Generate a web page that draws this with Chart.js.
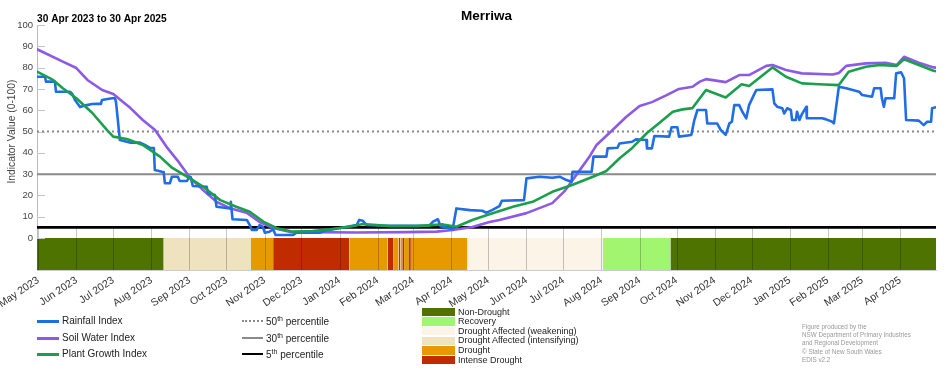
<!DOCTYPE html>
<html>
<head>
<meta charset="utf-8">
<script src="https://cdn.jsdelivr.net/npm/chart.js@4.4.1/dist/chart.umd.min.js"></script>
<style>
  body { margin: 0; background: #fff; font-family: "Liberation Sans", Arial, sans-serif; }
  #wrap { position: relative; width: 952px; height: 370px; overflow: hidden; }
  #chart { position: absolute; left: 0; top: 0; }
  .lg { position: absolute; white-space: nowrap; color: #222; }
  .sup { font-size: 7px; position: relative; top: -4px; }
</style>
</head>
<body>
<div id="wrap">
  <canvas id="chart" width="952" height="370"></canvas>
  <div id="legend"></div>
</div>
<script>
// ---- data (days counted from 30 Apr 2023) ----
var titleText = "Merriwa";
var periodText = "30 Apr 2023 to 30 Apr 2025";

var monthLabels = ["May 2023","Jun 2023","Jul 2023","Aug 2023","Sep 2023","Oct 2023","Nov 2023","Dec 2023",
  "Jan 2024","Feb 2024","Mar 2024","Apr 2024","May 2024","Jun 2024","Jul 2024","Aug 2024","Sep 2024","Oct 2024",
  "Nov 2024","Dec 2024","Jan 2025","Feb 2025","Mar 2025","Apr 2025"];
var monthDays = [1,32,62,93,124,154,185,215,246,277,306,337,367,398,428,459,490,520,551,581,612,643,671,702];
var lastDay = 731;
var yTicks = [0,10,20,30,40,50,60,70,80,90,100];

var seriesNames = ["Rainfall Index", "Soil Water Index", "Plant Growth Index"];

var rainDay = [0,6.5,7.3,14.6,15.4,26.8,28.4,30.9,35,40.6,44.7,48.7,52,52.8,61,63.4,64.2,67.4,75.5,83.7,87.7,91.8,95,95.8,
  101.5,103,104,108,109.7,114.5,116,122,123.5,125,126.7,138,139,144.6,146,157,157.6,159,170.6,173,174.7,178.7,181,183.6,
  185.2,189,192,194,208,211,230,235.6,238,252,260,262,265,268,284,319,322,326,328,335.5,338,341,352,362,365.5,370,376,378,
  396,398,408.6,419,425,430.5,434.6,435.4,451,452.5,463,464,472,473.6,484,487,495.5,496,500,502,514,516,520.7,522,532,
  534.5,537,544,545,553,556,560,563,565,567,571,573.5,576.7,579,583.5,585,598,599.5,602,606,607.6,610,613,614,617,618,
  620,622,625.5,626,638.5,641.7,646.6,648,650.6,652,658,668.5,671,679,680.7,686,687,688.6,690,697,698.6,702.6,705,706.7,
  717,721,723.8,727,727.8,731];
var rainVal = [75.7,75.7,73.4,73.4,68.7,68.7,67.9,64.8,61.5,62.4,62.9,63,63,64.8,65.6,65.6,64,46,44.8,44.8,43.7,42.3,42.3,31.9,
  31.1,31,25.7,25.7,28.8,28.8,26.8,26.8,28.6,28.6,24.4,24.1,21,20.2,14.7,13.9,17,8.8,8.5,6.1,3.8,3.8,6.1,5.3,
  2.5,3,4.1,1.4,1.4,2.5,2.5,3.8,3.8,5.3,6.1,8.5,8.1,6.1,5.8,5.8,7.7,8.8,5.6,4.6,4.1,13.9,13.1,12.8,11.9,13.1,15,17.5,
  17.8,28,28.8,28.3,28.8,27.2,26.4,31.1,31.1,38.2,38.2,42.1,42.4,44.4,45.2,46.3,46,42.1,42.1,47.9,47.6,52,52,47.6,48.4,
  55.4,60.1,60.1,53.8,53.8,50.7,48.4,53.8,54.6,62.4,62.4,59.3,56.2,62.4,67.9,69.5,69.8,63.2,61.6,60.9,58.5,60.9,60.1,55.4,55.4,59.3,
  55.4,58.2,61.6,56.2,56.2,55.7,54.6,53.8,65,71,70.3,68.7,67.1,66.3,70.3,70.3,65.6,61.6,65.6,65.6,77.3,77.8,75,55.4,
  55.1,53,54.6,54.6,60.9,61.4];

var soilDay = [0,21,32,41,53,62,76,86,96,106,114,124,135,146,157,171,181,192,206,224,260,300,325,338,354,368,376,398,419,
  429,439,449,455,468,479,490,500,512,522,533,539,544,560,571,579,593,598,609,622,647,652,658,674,690,699,705,717,729,731];
var soilVal = [88.6,82.8,79.8,74.2,69.5,67.6,61,55.4,50.7,42.3,36.6,28.6,22.5,17,14,11.7,7.5,4.7,2.8,2.8,2.6,2.8,3,3.8,5.2,7.5,8.5,11.7,16.4,
  22,30,38,43.7,50.7,56.8,62,63.8,67.1,70,71,73.4,74.6,73.2,76.5,76.5,80.8,81.2,78.9,77.3,76.8,77.5,80.8,82,82.3,81.2,85.1,82.3,80.1,80];

var growthDay = [0,13,21,32,45,57,62,73,86,100,110,122,135,149,162,173,184,195,208,224,238,254,265,287,309,330,341,354,366,387,
  403,419,435,452,463,474,484,496,506,517,525,533,544,560,573,579,598,609,622,636,652,660,674,685,699,705,717,729,731];
var growthVal = [78.1,74.2,70.3,65.6,58.7,50.7,47.6,46.5,43.7,38.2,32.9,28.8,24.1,17.8,14.7,12.3,7.7,4.6,3,3.3,4.1,5.3,6.6,5.6,5.6,6.4,5.3,8.5,10.8,14.7,
  17,21.7,24.9,28.8,31.5,37.6,42.3,49.3,54,59.3,60.4,61,69.5,66,72.2,71.4,80.1,75.7,72.6,72.2,71.8,78.1,80.4,81.2,80.8,83.9,81.2,78.5,78.3];

var pctNames = ["50", "30", "5"];
var pctValues = [50, 30, 5];

var droughtCats = ["Non-Drought","Recovery","Drought Affected (weakening)","Drought Affected (intensifying)","Drought","Intense Drought"];
var bandBreaks = [0,103,174,192,254,285,290,294,295.5,297,298.5,302.5,304,350,460,515,731];
var bandStatus = [0,3,4,5,4,5,4,5,4,5,4,5,4,2,1,0];

var creditLines = ["Figure produced by the","NSW Department of Primary Industries","and Regional Development",
  "\u00a9 State of New South Wales","EDIS v2.2"];

// ---- styles ----
var seriesColors = ["#1f6ee8", "#8c5ae6", "#1b9f4c"];
var pctColors = ["#8a8a8a", "#8a8a8a", "#000000"];
var pctWidths = [2, 2, 2.6];
var pctDash = [[2, 3], [], []];
var bandColors = ["#4e7300", "#a1f56f", "#fdf4e8", "#efe2bf", "#e69a00", "#c12b00"];
var bandFloor = -15;
var FONT = '"Liberation Sans", Arial, sans-serif';

function pts(xs, ys) {
  var out = [];
  for (var i = 0; i < xs.length; i++) out.push({x: xs[i], y: ys[i]});
  return out;
}

var datasets = [];
// drought status band (first in list so index 0 is drawn last among bands)
for (var i = 0; i < bandStatus.length; i++) {
  datasets.push({
    data: [{x: bandBreaks[i], y: 0}, {x: bandBreaks[i + 1], y: 0}],
    borderColor: "rgba(0,0,0,0)", borderWidth: 0, pointRadius: 0,
    backgroundColor: bandColors[bandStatus[i]], fill: {value: bandFloor}, order: 100
  });
}
// percentile reference lines
for (var j = 0; j < pctValues.length; j++) {
  datasets.push({
    data: [{x: 0, y: pctValues[j]}, {x: lastDay, y: pctValues[j]}],
    borderColor: pctColors[j], borderWidth: pctWidths[j], borderDash: pctDash[j],
    pointRadius: 0, fill: false, order: 50
  });
}
var seriesData = [pts(rainDay, rainVal), pts(soilDay, soilVal), pts(growthDay, growthVal)];
var seriesOrder = [2, 3, 1];
for (var k = 0; k < seriesData.length; k++) {
  datasets.push({
    label: seriesNames[k], data: seriesData[k],
    borderColor: seriesColors[k], borderWidth: 2.6, pointRadius: 0,
    fill: false, tension: 0, order: seriesOrder[k],
    borderJoinStyle: "round", borderCapStyle: "round"
  });
}

var decor = {
  id: "decor",
  afterDatasetDraw: function(chart, args) {
    if (args.index !== 0) return;
    var ctx = chart.ctx, x = chart.scales.x, y = chart.scales.y;
    ctx.save();
    ctx.lineWidth = 1;
    ctx.strokeStyle = "rgba(0,0,0,0.22)";
    var top = y.getPixelForValue(5), bot = y.getPixelForValue(bandFloor);
    monthDays.forEach(function(d) {
      var px = Math.round(x.getPixelForValue(d)) + 0.5;
      ctx.beginPath(); ctx.moveTo(px, top); ctx.lineTo(px, bot); ctx.stroke();
    });
    ctx.strokeStyle = "#c4c4c4";
    yTicks.forEach(function(v) {
      var py = Math.round(y.getPixelForValue(v)) + 0.5;
      ctx.beginPath(); ctx.moveTo(x.left, py); ctx.lineTo(x.left + 8, py); ctx.stroke();
    });
    ctx.restore();
  },
  afterDraw: function(chart) {
    var ctx = chart.ctx, x = chart.scales.x, y = chart.scales.y;
    ctx.save();
    ctx.fillStyle = "#000";
    ctx.textBaseline = "alphabetic";
    ctx.font = "bold 13.5px " + FONT;
    ctx.textAlign = "center";
    ctx.fillText(titleText, (x.left + x.right) / 2, 20);
    ctx.font = "bold 10.2px " + FONT;
    ctx.textAlign = "left";
    ctx.fillText(periodText, x.left, 21.5);
    // y axis title, centred on the 0-100 range
    ctx.translate(12, (y.getPixelForValue(0) + y.getPixelForValue(100)) / 2);
    ctx.rotate(-Math.PI / 2);
    ctx.textAlign = "center";
    ctx.textBaseline = "middle";
    ctx.fillStyle = "#444";
    ctx.font = "10.3px " + FONT;
    ctx.fillText("Indicator Value (0-100)", 0, 0);
    ctx.restore();
  }
};

var chart = new Chart(document.getElementById("chart"), {
  type: "line",
  data: {datasets: datasets},
  plugins: [decor],
  options: {
    responsive: false,
    animation: false,
    events: [],
    layout: {padding: {top: 25, right: 16, bottom: 60, left: 0}},
    plugins: {legend: {display: false}, tooltip: {enabled: false}, title: {display: false}},
    scales: {
      x: {
        type: "linear", min: 0, max: lastDay,
        grid: {display: false, drawTicks: false},
        border: {display: true, color: "#cccccc"},
        afterBuildTicks: function(s) { s.ticks = monthDays.map(function(d) { return {value: d}; }); },
        afterFit: function(s) { s.height = 40; s.paddingLeft = 0; s.paddingRight = 0; },
        ticks: {
          autoSkip: false, minRotation: 34, maxRotation: 34, padding: 4,
          color: "#333", font: {family: FONT, size: 10.5},
          callback: function(v, i) { return monthLabels[i]; }
        }
      },
      y: {
        min: bandFloor, max: 100,
        grid: {display: false, drawTicks: false},
        border: {display: true, color: "#bbbbbb"},
        afterBuildTicks: function(s) { s.ticks = yTicks.map(function(v) { return {value: v}; }); },
        afterFit: function(s) { s.width = 37; },
        ticks: {padding: 4, color: "#444", font: {family: FONT, size: 9.5}}
      }
    }
  }
});

// ---- legend below the chart ----
var legend = document.getElementById("legend");
function add(html, css) {
  var d = document.createElement("div");
  d.className = "lg";
  d.innerHTML = html;
  for (var p in css) d.style[p] = css[p];
  legend.appendChild(d);
  return d;
}
var rowY = [321, 338, 354];
seriesNames.forEach(function(n, i) {
  add("", {left: "37px", top: (rowY[i] - 1) + "px", width: "22px", height: "2.5px", background: seriesColors[i]});
  add(n, {left: "62px", top: (rowY[i] - 6) + "px", fontSize: "10px", lineHeight: "12px"});
});
pctNames.forEach(function(n, i) {
  var css = {left: "242px", top: (rowY[i] - 1) + "px", width: "21px", height: "0px"};
  if (pctDash[i].length) css.borderTop = "2px dotted " + pctColors[i];
  else css.borderTop = pctWidths[i] + "px solid " + pctColors[i];
  add("", css);
  add(n + '<span class="sup">th</span> percentile',
      {left: "266px", top: (rowY[i] - 5) + "px", fontSize: "10px", lineHeight: "12px"});
});
droughtCats.forEach(function(n, i) {
  var cy = 312 + i * 9.6;
  add("", {left: "422px", top: (cy - 4.2) + "px", width: "33px", height: "8.4px", background: bandColors[i]});
  add(n, {left: "458px", top: (cy - 5.5) + "px", fontSize: "9px", lineHeight: "11px"});
});
creditLines.forEach(function(t, i) {
  add(t, {left: "802px", top: (323 + i * 8.2) + "px", fontSize: "6.3px", lineHeight: "8px", color: "#999"});
});
</script>
</body>
</html>
